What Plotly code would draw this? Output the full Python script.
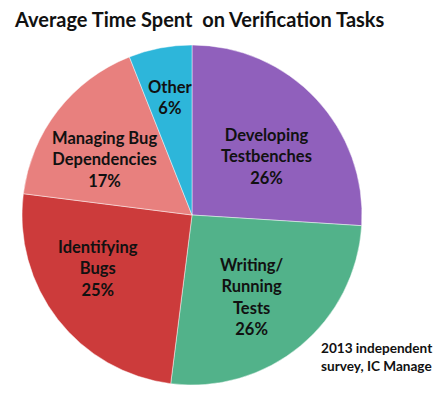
import plotly.graph_objects as go

categories = ["Developing<br>Testbenches", "Writing/<br>Running<br>Tests", "Identifying<br>Bugs",
              "Managing Bug<br>Dependencies", "Other"]
values = [26, 26, 25, 17, 6]
colors = ["#9060BC", "#52B28A", "#CC3B3B", "#E8807E", "#2DB6DA"]
label_pos = [(266, 156), (252, 297), (98, 268), (104, 160), (170, 97)]

OFF = 8  # page body margin offset
W, H = 442 - OFF, 395 - OFF


def px(x):
    return (x - OFF) / W


def py(y):
    return 1 - (y - OFF) / H


fig = go.Figure(go.Pie(
    labels=categories, values=values, sort=False, direction="clockwise", rotation=0,
    marker=dict(colors=colors, line=dict(color="rgba(255,255,255,0.45)", width=1)),
    textinfo="none", hoverinfo="label+percent", showlegend=False,
    domain=dict(x=[px(22), px(362)], y=[py(385), py(45)]),
))

font = "Lato, 'Open Sans', sans-serif"
for cat, v, (x, y) in zip(categories, values, label_pos):
    fig.add_annotation(x=px(x), y=py(y), xref="paper", yref="paper",
                       xanchor="center", yanchor="middle",
                       text=f"<b>{cat}<br>{v}%</b>", showarrow=False,
                       font=dict(family=font, size=16.5, color="#111111"), align="center")

fig.add_annotation(x=px(12), y=py(19), xref="paper", yref="paper", xanchor="left", yanchor="middle",
                   text="<b>Average Time Spent  on Verification Tasks</b>", showarrow=False,
                   font=dict(family=font, size=20, color="#111111"))
fig.add_annotation(x=px(319), y=py(357), xref="paper", yref="paper", xanchor="left", yanchor="middle",
                   text="<b>2013 independent<br>survey, IC Manage</b>", showarrow=False,
                   font=dict(family=font, size=13.6, color="#111111"), align="left")

fig.update_layout(width=W, height=H, margin=dict(l=0, r=0, t=0, b=0),
                  paper_bgcolor="white", plot_bgcolor="white")
fig.write_html("out.html")
